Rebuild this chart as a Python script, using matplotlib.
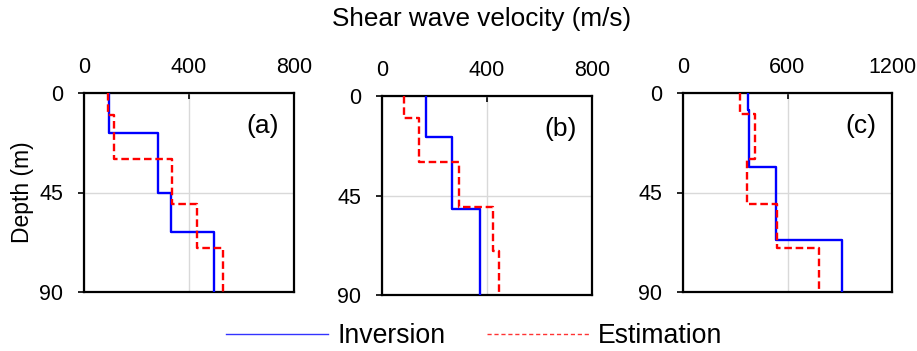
import matplotlib
matplotlib.use("Agg")
import matplotlib.pyplot as plt
from matplotlib.lines import Line2D

plt.rcParams['font.family'] = ['Liberation Sans', 'DejaVu Sans']

# Layer boundaries (depth, m) and velocities (m/s) for each panel
a_inv_depth = [0, 18, 45, 63, 90]
a_inv_vel = [96, 283, 330, 494]
a_est_depth = [0, 10, 30, 50, 70, 90]
a_est_vel = [93, 114, 336, 432, 531]

b_inv_depth = [0, 18.5, 51, 90]
b_inv_vel = [168, 266, 372]
b_est_depth = [0, 10, 30, 50, 70, 90]
b_est_vel = [82, 140, 292, 424, 444]

c_inv_depth = [0, 7.8, 33.5, 66.7, 90]
c_inv_vel = [371, 381, 535, 912]
c_est_depth = [0, 9.5, 30, 50, 70, 90]
c_est_vel = [329, 416, 369, 542, 781]

panel_labels = ['(a)', '(b)', '(c)']
x_ticks = [[0, 400, 800], [0, 400, 800], [0, 600, 1200]]
y_ticks = [0, 45, 90]


def profile(depths, vels):
    xs, ys = [], []
    for i, v in enumerate(vels):
        xs += [v, v]
        ys += [depths[i], depths[i + 1]]
    return xs, ys


W, H = 917, 351
fig = plt.figure(figsize=(W / 100, H / 100), dpi=100)

boxes = [(84, 93, 210, 199), (382, 96, 210, 199), (683, 93, 209, 199)]
data = [
    (a_inv_depth, a_inv_vel, a_est_depth, a_est_vel),
    (b_inv_depth, b_inv_vel, b_est_depth, b_est_vel),
    (c_inv_depth, c_inv_vel, c_est_depth, c_est_vel),
]

for k, ((l, t, w, h), (idp, iv, edp, ev)) in enumerate(zip(boxes, data)):
    ax = fig.add_axes([l / W, 1 - (t + h) / H, w / W, h / H])
    xs, ys = profile(idp, iv)
    ax.plot(xs, ys, color='#0000ff', lw=1.7, zorder=3)
    xs, ys = profile(edp, ev)
    ax.plot(xs, ys, color='#ff0000', lw=1.7, ls=(0, (3.2, 1.6)), zorder=4)
    ax.set_xlim(x_ticks[k][0], x_ticks[k][-1])
    ax.set_ylim(90, 0)
    ax.xaxis.tick_top()
    ax.set_xticks(x_ticks[k])
    ax.set_yticks(y_ticks)
    ax.tick_params(axis='x', direction='in', length=4, width=1.2, labelsize=15.5, pad=11)
    ax.tick_params(axis='y', direction='out', length=4, width=1.2, labelsize=15.5, pad=11)
    ax.grid(True, color='#d9d9d9', lw=1)
    ax.set_axisbelow(True)
    for s in ax.spines.values():
        s.set_linewidth(1.6)
        s.set_color('black')
    ax.text(0.85, 0.835, panel_labels[k], transform=ax.transAxes, fontsize=19,
            ha='center', va='center')

fig.text(22 / W, 1 - 192 / H, 'Depth (m)', fontsize=16.5, rotation=90,
         ha='center', va='center')
fig.text(482 / W, 1 - 19 / H, 'Shear wave velocity (m/s)', fontsize=18.8,
         ha='center', va='center')

handles = [Line2D([], [], color='#3333ff', lw=1.0),
           Line2D([], [], color='#ff3333', lw=1.0, ls=(0, (3, 2)))]
fig.legend(handles, ['Inversion', 'Estimation'], loc='center',
           bbox_to_anchor=(474.5 / W, 1 - 336 / H), ncol=2, frameon=False,
           fontsize=19.2, handlelength=3.82, handletextpad=0.35,
           columnspacing=1.55, borderpad=0, borderaxespad=0)

fig.savefig('out.png', dpi=100)
